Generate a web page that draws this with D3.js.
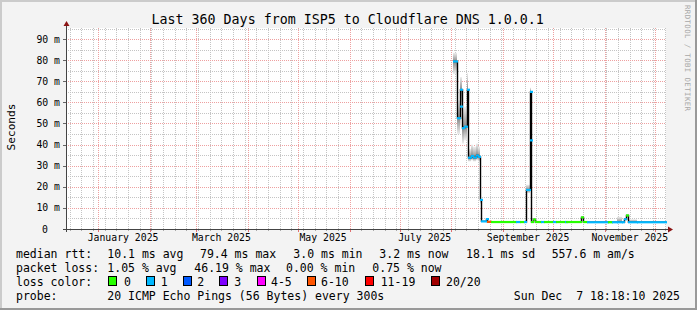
<!DOCTYPE html>
<html><head><meta charset="utf-8">
<script src="https://cdn.jsdelivr.net/npm/d3@7"></script>
<style>
html,body{margin:0;padding:0;background:#f3f3f3;}
svg{display:block;font-family:"DejaVu Sans Mono",monospace;}
text{white-space:pre;}
</style></head><body>
<svg id="c" width="697" height="310"></svg>
<script>
// ---------------- data ----------------
const title = "Last 360 Days from ISP5 to Cloudflare DNS 1.0.0.1";
const rangeStart = "2024-12-12T18:18:10Z";
const rangeEnd = "2025-12-07T18:18:10Z";
const yTickValues = [0, 10, 20, 30, 40, 50, 60, 70, 80, 90];          // ms
const yTickLabels = ["0", "10 m", "20 m", "30 m", "40 m", "50 m", "60 m", "70 m", "80 m", "90 m"];
const yMinorValues = [5, 15, 25, 35, 45, 55, 65, 75, 85, 95];
const monthLabels = ["January 2025", "March 2025", "May 2025", "July 2025", "September 2025", "November 2025"];
const monthLabelDates = ["2025-01-01", "2025-03-01", "2025-05-01", "2025-07-01", "2025-09-01", "2025-11-01"];

const times = [
  "2025-08-02T02:00", "2025-08-04T05:00", "2025-08-05T22:00", "2025-08-06T10:00", "2025-08-07T14:00",
  "2025-08-08T12:00", "2025-08-10T02:00", "2025-08-11T00:00", "2025-08-12T12:00", "2025-08-14T00:00",
  "2025-08-15T12:00", "2025-08-17T00:00", "2025-08-18T05:00", "2025-08-18T19:00", "2025-08-21T14:00",
  "2025-08-22T14:00", "2025-08-24T12:00", "2025-09-08T22:00", "2025-09-11T00:00", "2025-09-13T12:00",
  "2025-09-15T00:00", "2025-09-17T00:00", "2025-09-17T07:00", "2025-09-17T17:00", "2025-09-18T22:00",
  "2025-09-20T02:00", "2025-09-23T22:00", "2025-09-25T12:00", "2025-10-01T00:00", "2025-10-03T00:00",
  "2025-10-08T00:00", "2025-10-08T22:00", "2025-10-17T17:00", "2025-10-18T22:00", "2025-10-21T02:00",
  "2025-11-03T00:00", "2025-11-05T05:00", "2025-11-08T10:00", "2025-11-11T10:00", "2025-11-12T20:00",
  "2025-11-13T14:00", "2025-11-15T05:00", "2025-11-20T05:00"
];
const medians = [ // ms
  79.4, 52.5, 58.0, 66.0, 47.8,
  48.5, 66.0, 33.8, 34.6, 33.9,
  34.8, 34.2, 13.8, 3.6, 4.7,
  3.4, 3.3, 3.3, 3.3, 3.3,
  18.5, 42.0, 65.0, 3.3, 4.5,
  3.3, 3.3, 3.3, 3.3, 3.3,
  3.3, 3.3, 5.5, 3.3, 3.2,
  3.2, 3.2, 3.2, 3.2, 4.6,
  6.4, 3.2, 3.2
];
const losses = [ // lost pings out of 20
  1, 1, 1, 1, 1,
  1, 1, 1, 1, 1,
  1, 1, 1, 1, 1,
  8, 0, 1, 0, 1,
  1, 1, 1, 0, 0,
  0, 1, 0, 1, 0,
  1, 0, 0, 0, 1,
  0, 1, 1, 1, 1,
  0, 1, 1
];
const smokeLo = [
  73.5, 45, 49, 56, 40.5,
  42, 56, 32, 32.5, 32,
  32.5, 32, 12, null, null,
  null, null, null, null, null,
  17, 36, 60, null, null,
  null, null, null, null, null,
  null, null, null, null, null,
  null, null, 3.0, null, null,
  null, 3.0, null
];
const smokeHi = [
  83.5, 61, 68, 72, 57,
  58, 74, 38, 40, 39,
  40.5, 39, 16, null, null,
  null, null, null, null, null,
  21, 50, 67, null, null,
  null, null, null, null, null,
  null, null, null, null, null,
  null, null, 5.8, null, null,
  null, 4.6, null
];

const lossLegend = ["0", "1", "2", "3", "4-5", "6-10", "11-19", "20/20"];
const lossColors = ["#26ff00", "#00b8ff", "#0059ff", "#7e00ff", "#ff00ff", "#ff5500", "#ff0000", "#a10000"];
const lossUpper = [0, 1, 2, 3, 5, 10, 19, 20];

const rttLabels = ["median rtt:", "10.1 ms avg", "79.4 ms max", "3.0 ms min", "3.2 ms now", "18.1 ms sd", "557.6 m am/s"];
const lossLabels = ["packet loss:", "1.05 % avg", "46.19 % max", "0.00 % min", "0.75 % now"];
const probeLabels = ["probe:", "20 ICMP Echo Pings (56 Bytes) every 300s"];
const dateLabel = "Sun Dec  7 18:18:10 2025";
const yAxisTitle = "Seconds";
const watermark = "RRDTOOL / TOBI OETIKER";

// ---------------- layout ----------------
const W = 697, H = 310;
const X0 = 66, X1 = 666, Y0 = 229, Y1 = 28;
const svg = d3.select("#c");
const parse = s => new Date(s.length <= 10 ? s + "T00:00:00Z" : (s.endsWith("Z") ? s : s + ":00Z"));
const tStart = parse(rangeStart), tEnd = parse(rangeEnd);
const x = d3.scaleUtc().domain([tStart, tEnd]).range([X0, X1]);
const y = d3.scaleLinear().domain([0, 95.26]).range([Y0, Y1]);
const px = v => Math.round(v) + 0.5;

// background & frame
svg.append("rect").attr("width", W).attr("height", H).attr("fill", "#f3f3f3");
svg.append("rect").attr("x", 0).attr("y", 0).attr("width", W).attr("height", 2).attr("fill", "#cbcbcb");
svg.append("rect").attr("x", 0).attr("y", 0).attr("width", 2).attr("height", H).attr("fill", "#cbcbcb");
svg.append("rect").attr("x", 0).attr("y", H - 2).attr("width", W).attr("height", 2).attr("fill", "#999");
svg.append("rect").attr("x", W - 2).attr("y", 0).attr("width", 2).attr("height", H).attr("fill", "#999");

// canvas
svg.append("rect").attr("x", X0).attr("y", Y1).attr("width", X1 - X0).attr("height", Y0 - Y1).attr("fill", "#fff");

const grid = svg.append("g");
const minorC = "#c4c4c4", majorC = "#eea0a0";
// minor vertical: weekly (Sundays)
d3.utcSunday.range(tStart, tEnd).forEach(d => {
  const xx = px(x(d));
  grid.append("line").attr("x1", xx).attr("x2", xx).attr("y1", Y1).attr("y2", Y0)
    .attr("stroke", minorC).attr("stroke-dasharray", "1,1");
  grid.append("line").attr("x1", xx).attr("x2", xx).attr("y1", Y0).attr("y2", Y0 + 2).attr("stroke", "#aaa");
});
// minor horizontal
yMinorValues.forEach(v => {
  const yy = px(y(v));
  grid.append("line").attr("x1", X0).attr("x2", X1).attr("y1", yy).attr("y2", yy)
    .attr("stroke", minorC).attr("stroke-dasharray", "1,1");
});
// major vertical: months
d3.utcMonth.range(tStart, tEnd).forEach(d => {
  const xx = px(x(d));
  grid.append("line").attr("x1", xx).attr("x2", xx).attr("y1", Y1).attr("y2", Y0)
    .attr("stroke", majorC).attr("stroke-dasharray", "1,1");
  grid.append("line").attr("x1", xx).attr("x2", xx).attr("y1", Y0).attr("y2", Y0 + 3).attr("stroke", "#e07070");
});
// major horizontal
yTickValues.filter(v => v > 0).forEach(v => {
  const yy = px(y(v));
  grid.append("line").attr("x1", X0).attr("x2", X1).attr("y1", yy).attr("y2", yy)
    .attr("stroke", majorC).attr("stroke-dasharray", "1,1");
  grid.append("line").attr("x1", X0 - 3).attr("x2", X0).attr("y1", yy).attr("y2", yy).attr("stroke", "#666");
});

// data points
const pts = times.map((t, i) => ({
  t: parse(t), m: medians[i], loss: losses[i], lo: smokeLo[i], hi: smokeHi[i]
}));
pts.forEach((p, i) => { p.t2 = i < pts.length - 1 ? pts[i + 1].t : tEnd; });

// smoke
const defs = svg.append("defs");
const smoke = svg.append("g");
pts.forEach((p, i) => {
  if (p.lo == null) return;
  const k = (p.hi - p.m) / (p.hi - p.lo);
  const g = defs.append("linearGradient").attr("id", "sg" + i).attr("x1", 0).attr("y1", 0).attr("x2", 0).attr("y2", 1);
  g.append("stop").attr("offset", 0).attr("stop-color", "#eeeeee");
  g.append("stop").attr("offset", k).attr("stop-color", "#8a8a8a");
  g.append("stop").attr("offset", 1).attr("stop-color", "#eeeeee");
  const xa = Math.round(x(p.t)), xb = Math.max(Math.round(x(p.t2)), xa + 1);
  smoke.append("rect").attr("x", xa).attr("width", xb - xa)
    .attr("y", y(p.hi)).attr("height", y(p.lo) - y(p.hi)).attr("fill", "url(#sg" + i + ")");
});

// black step line
const stepData = pts.concat([{ t: tEnd, m: pts[pts.length - 1].m }]);
svg.append("path").datum(stepData)
  .attr("d", d3.line().x(d => Math.round(x(d.t)) + 0.5).y(d => y(d.m)).curve(d3.curveStepAfter))
  .attr("fill", "none").attr("stroke", "#000").attr("stroke-width", 1.4);

// colored median segments
const lossColor = l => lossColors[lossUpper.findIndex(u => l <= u)];
pts.forEach(p => {
  const xa = Math.round(x(p.t)), xb = Math.max(Math.round(x(p.t2)), xa + 2);
  svg.append("line").attr("x1", xa).attr("x2", xb + 1).attr("y1", y(p.m)).attr("y2", y(p.m))
    .attr("stroke", lossColor(p.loss)).attr("stroke-width", 2.2);
});

// axes
const axisC = "#444", arrowC = "#8b1414";
svg.append("line").attr("x1", X0 + 0.5).attr("x2", X0 + 0.5).attr("y1", Y0 + 3).attr("y2", Y1 - 5).attr("stroke", axisC);
svg.append("line").attr("x1", X0 - 3).attr("x2", X1 + 4).attr("y1", Y0 + 0.5).attr("y2", Y0 + 0.5).attr("stroke", axisC);
svg.append("path").attr("d", `M${X0 - 2.5},${Y1 - 2} L${X0 + 0.5},${Y1 - 7} L${X0 + 3.5},${Y1 - 2} Z`).attr("fill", arrowC);
svg.append("path").attr("d", `M${X1 + 2},${Y0 - 2.5} L${X1 + 7},${Y0 + 0.5} L${X1 + 2},${Y0 + 3.5} Z`).attr("fill", arrowC);

// y labels
yTickValues.forEach((v, i) => {
  svg.append("text").attr("x", v === 0 ? 48 : 60).attr("y", y(v) + 3.6)
    .attr("text-anchor", "end").attr("font-size", "9.8px").attr("fill", "#000").text(yTickLabels[i]);
});
// x labels
monthLabelDates.forEach((d, i) => {
  const t = d3.utcDay.offset(parse(d), 15);
  svg.append("text").attr("x", x(t)).attr("y", 241.3).attr("text-anchor", "middle")
    .attr("font-size", "9.8px").attr("fill", "#000").text(monthLabels[i]);
});

// title
svg.append("text").attr("x", 347.7).attr("y", 24).attr("text-anchor", "middle")
  .attr("font-size", "13.3px").attr("fill", "#000").text(title);
// y title
svg.append("text").attr("transform", "translate(15,127) rotate(-90)").attr("text-anchor", "middle")
  .attr("font-size", "11.1px").attr("fill", "#000").text(yAxisTitle);
// watermark
svg.append("text").attr("transform", "translate(684.5,5) rotate(90)").attr("text-anchor", "start")
  .attr("font-size", "7.4px").attr("fill", "#a8a8a8")
  .attr("textLength", 106).attr("lengthAdjust", "spacing").text(watermark);

// legend
const LF = "11.5px";
const rttX = [16, 107.3, 200, 293.3, 379.3, 466, 551.7];
rttLabels.forEach((s, i) => svg.append("text").attr("x", rttX[i]).attr("y", 258.3).attr("font-size", LF).text(s));
const lossX = [16, 107.3, 194.3, 286, 372.3];
lossLabels.forEach((s, i) => svg.append("text").attr("x", lossX[i]).attr("y", 272.2).attr("font-size", LF).text(s));
svg.append("text").attr("x", 16).attr("y", 286).attr("font-size", LF).text("loss color:");
const boxX = [108.3, 145.7, 182.7, 219.3, 256.7, 306.7, 365, 430.7];
const boxLabelX = [124, 160.7, 197.3, 234.3, 271, 321, 380.7, 446];
lossLegend.forEach((s, i) => {
  svg.append("rect").attr("x", Math.round(boxX[i]) + 0.5).attr("y", 276.5).attr("width", 8).attr("height", 9)
    .attr("fill", lossColors[i]).attr("stroke", "#000");
  svg.append("text").attr("x", boxLabelX[i]).attr("y", 286).attr("font-size", LF).text(s);
});
const probeX = [16, 107.3];
probeLabels.forEach((s, i) => svg.append("text").attr("x", probeX[i]).attr("y", 299.8).attr("font-size", LF).text(s));
svg.append("text").attr("x", 680).attr("y", 299.8).attr("text-anchor", "end").attr("font-size", LF).text(dateLabel);
</script>
</body></html>
